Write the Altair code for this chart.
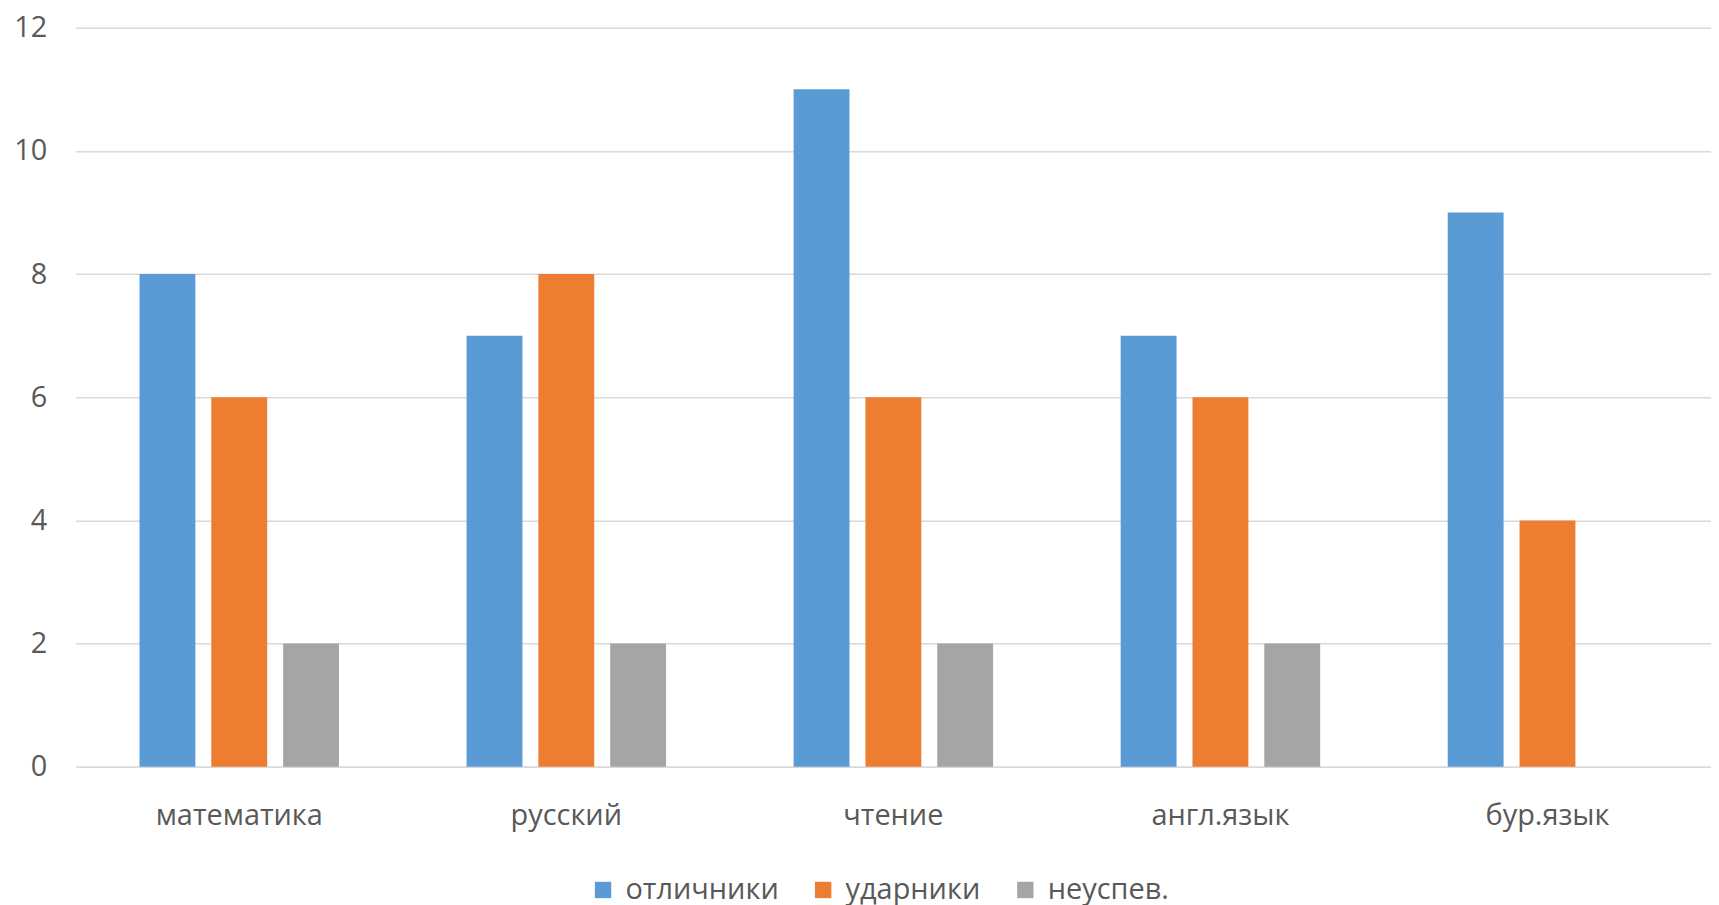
import altair as alt
import pandas as pd

subjects = ["математика", "русский", "чтение", "англ.язык", "бур.язык"]
series = ["отличники", "ударники", "неуспев."]
otlichniki = [8, 7, 11, 7, 9]
udarniki = [6, 8, 6, 6, 4]
neuspev = [2, 2, 2, 2, 0]
colors = ["#5B9BD5", "#ED7D31", "#A5A5A5"]

rows = []
for i, s in enumerate(subjects):
    for name, vals in zip(series, [otlichniki, udarniki, neuspev]):
        rows.append({"subject": s, "series": name, "value": vals[i]})
df = pd.DataFrame(rows)

FONT = "Open Sans"
TXT = "#595959"

chart = (
    alt.Chart(df)
    .mark_bar()
    .encode(
        x=alt.X(
            "subject:N",
            sort=subjects,
            title=None,
            scale=alt.Scale(paddingInner=0.39, paddingOuter=0.195),
            axis=alt.Axis(
                labelAngle=0,
                labelFontSize=29,
                labelColor=TXT,
                labelFont=FONT,
                labelPadding=35,
                ticks=False,
                domainColor="#d9d9d9",
                domainWidth=1.5,
                grid=False,
            ),
        ),
        xOffset=alt.XOffset(
            "series:N", sort=series, scale=alt.Scale(paddingInner=0.222, paddingOuter=0)
        ),
        y=alt.Y(
            "value:Q",
            title=None,
            scale=alt.Scale(domain=[0, 12], nice=False),
            axis=alt.Axis(
                values=[0, 2, 4, 6, 8, 10, 12],
                labelFontSize=29,
                labelColor=TXT,
                labelFont=FONT,
                labelPadding=29,
                ticks=False,
                domain=False,
                gridColor="#d9d9d9",
                gridWidth=1.5,
            ),
        ),
        color=alt.Color(
            "series:N",
            sort=series,
            scale=alt.Scale(domain=series, range=colors),
            legend=alt.Legend(
                title=None,
                orient="none",
                legendX=515,
                legendY=851,
                direction="horizontal",
                symbolType="square",
                symbolSize=270,
                symbolStrokeWidth=0,
                labelFontSize=29,
                labelColor=TXT,
                labelFont=FONT,
                labelOffset=8,
                columnPadding=30,
            ),
        ),
    )
    .properties(
        width=1642,
        height=742,
        autosize=alt.AutoSizeParams(type="none"),
        padding={"left": 68, "top": 18, "right": 0, "bottom": 140},
    )
    .configure_view(stroke=None)
)

chart.save("out.html", embed_options={"renderer": "svg", "actions": False})
